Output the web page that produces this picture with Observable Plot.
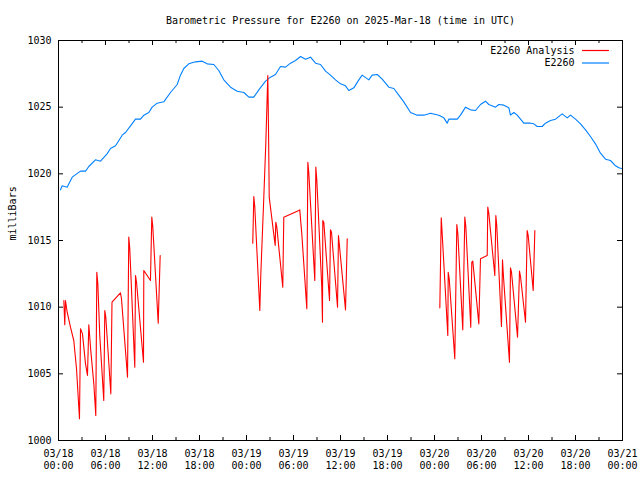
<!DOCTYPE html>
<html>
<head>
<meta charset="utf-8">
<script src="https://cdn.jsdelivr.net/npm/d3@7"></script>
<script src="https://cdn.jsdelivr.net/npm/@observablehq/plot@0.6"></script>
<style>
  html, body { margin: 0; padding: 0; background: #fff; }
</style>
</head>
<body>
<div id="chart"></div>
<script>
// ---- Data (hours since 2025-03-18 00:00 UTC, pressure in milliBars) ----
const titleText = "Barometric Pressure for E2260 on 2025-Mar-18 (time in UTC)";
const yLabel = "milliBars";
const seriesNames = ["E2260 Analysis", "E2260"];
const seriesColors = ["rgb(255,0,0)", "rgb(0,128,255)"];

const stationHours = [0.26,0.47,1.1,1.75,2.8,3.45,3.87,4.72,5.36,6.2,6.64,7.28,8.13,8.55,9.19,9.83,10.47,10.9,11.53,11.96,12.6,13.44,14.3,15.15,15.57,16.0,16.63,17.49,18.34,18.98,19.83,20.46,21.1,21.96,22.81,23.66,24.3,24.93,25.57,26.43,27.06,27.7,28.34,28.98,29.62,30.26,30.9,31.53,32.17,32.81,33.45,34.09,34.72,35.36,36.0,36.64,37.06,37.7,38.34,38.77,39.61,40.04,40.69,41.32,42.17,42.81,43.44,44.08,44.94,45.79,46.64,47.49,48.55,49.19,49.62,49.83,50.9,51.32,51.96,52.6,53.23,53.87,54.51,54.93,55.79,56.21,56.85,57.49,57.7,58.13,58.56,58.98,59.4,60.26,60.68,61.11,61.75,62.17,62.81,63.45,64.3,64.94,65.36,66.0,66.64,67.28,67.91,68.55,69.19,69.83,70.47,71.11,71.53,71.9];
const stationP = [1018.8,1019.1,1019.0,1019.75,1020.2,1020.2,1020.55,1021.05,1020.95,1021.5,1021.9,1022.1,1022.9,1023.1,1023.6,1024.1,1024.1,1024.4,1024.6,1025.0,1025.3,1025.4,1026.1,1026.7,1027.4,1027.9,1028.25,1028.4,1028.45,1028.25,1028.2,1027.75,1027.05,1026.5,1026.2,1026.1,1025.75,1025.75,1026.3,1026.95,1027.25,1027.45,1028.05,1028.0,1028.3,1028.5,1028.8,1028.6,1028.75,1028.3,1028.2,1027.7,1027.4,1027.05,1026.75,1026.6,1026.25,1026.45,1027.05,1027.4,1027.05,1027.4,1027.45,1027.1,1026.5,1026.4,1025.9,1025.4,1024.6,1024.4,1024.4,1024.55,1024.4,1024.2,1023.8,1024.1,1024.1,1024.4,1025.0,1024.8,1024.75,1025.2,1025.45,1025.2,1025.0,1025.2,1025.15,1024.95,1024.4,1024.6,1024.4,1024.1,1023.8,1023.8,1023.75,1023.55,1023.55,1023.8,1024.0,1024.1,1024.5,1024.2,1024.4,1024.1,1023.75,1023.3,1022.8,1022.25,1021.55,1021.1,1021.0,1020.6,1020.45,1020.4];

// null entries mark gaps between analysis segments
const analysisHours = [0.68,0.8,0.89,1.11,1.53,1.95,2.3,2.68,2.81,3.06,3.45,3.7,3.87,4.12,4.51,4.76,4.89,5.02,5.27,5.78,5.91,6.04,6.68,6.83,7.91,8.04,8.81,8.97,9.1,9.74,9.83,9.96,10.85,10.89,11.74,11.91,12.04,12.73,12.98,
  null,
  24.8,24.93,25.06,25.7,25.83,26.21,26.47,26.72,26.81,26.9,27.66,27.74,27.87,28.63,28.76,30.68,30.8,31.06,31.7,31.83,31.95,32.72,32.85,32.98,33.61,33.7,33.74,33.87,34.6,34.72,34.85,35.62,35.74,36.64,36.86,
  null,
  48.68,48.86,48.93,49.7,49.75,49.88,50.59,50.85,50.98,51.61,51.87,52.0,52.63,52.76,52.89,53.66,53.87,54.73,54.8,54.93,55.7,55.83,55.95,56.55,56.68,56.81,57.57,57.7,57.83,58.6,58.85,58.98,59.62,59.83,59.96,60.6,60.81];
const analysisP = [1010.5,1008.68,1010.5,1009.62,1008.5,1007.5,1005.38,1001.63,1008.38,1008.0,1005.75,1004.88,1008.68,1006.75,1004.25,1001.88,1012.62,1011.75,1007.88,1003.0,1009.75,1009.25,1003.5,1010.37,1011.08,1010.63,1004.75,1015.25,1014.38,1005.5,1012.38,1011.87,1005.87,1012.75,1012.0,1016.75,1016.0,1008.8,1013.87,
  null,
  1014.8,1018.3,1017.5,1009.75,1012.5,1018.25,1022.37,1027.38,1023.38,1018.25,1014.63,1016.37,1016.0,1011.5,1016.75,1017.25,1017.3,1015.5,1009.88,1020.87,1020.12,1012.0,1020.5,1019.5,1011.5,1008.87,1016.5,1016.37,1010.5,1015.8,1015.62,1010.0,1015.38,1009.8,1015.13,
  null,
  1009.95,1016.7,1016.05,1007.88,1012.62,1012.13,1006.13,1016.2,1015.5,1008.3,1016.75,1016.05,1008.5,1013.37,1013.45,1008.75,1013.63,1013.87,1017.5,1017.05,1012.38,1016.88,1016.13,1008.55,1013.55,1012.25,1005.87,1012.95,1012.62,1007.75,1012.7,1012.3,1008.87,1015.75,1015.38,1011.25,1015.75];

const yTicks = [1000, 1005, 1010, 1015, 1020, 1025, 1030];
const xTickHours = [0, 6, 12, 18, 24, 30, 36, 42, 48, 54, 60, 66, 72];
const xMinorHours = [3, 9, 15, 21, 27, 33, 39, 45, 51, 57, 63, 69];

// ---- Build tables ----
const t0 = Date.UTC(2025, 2, 18, 0, 0);
const toDate = h => h == null ? null : new Date(t0 + h * 3600e3);
const station = stationHours.map((h, i) => ({t: toDate(h), p: stationP[i]}));
const analysis = analysisHours.map((h, i) => ({t: toDate(h), p: analysisP[i]}));
const xTicks = xTickHours.map(toDate);
const xMinor = xMinorHours.map(toDate);
const fmtDate = d3.utcFormat("%m/%d");
const fmtTime = d3.utcFormat("%H:%M");
const legend = seriesNames.map((name, i) => ({name, color: seriesColors[i], row: i}));

const W = 640, H = 480, mL = 58, mR = 18, mT = 40, mB = 40;
const innerH = H - mT - mB, innerW = W - mL - mR;
const font = "'DejaVu Sans Mono', 'Liberation Mono', monospace";

// legend swatch geometry (pixels from the frame's right edge / top)
const swatchRight = 13, swatchLen = 27, rowStep = 12.5, firstRow = 10;

const chart = Plot.plot({
  width: W,
  height: H,
  marginLeft: mL,
  marginRight: mR,
  marginTop: mT,
  marginBottom: mB,
  style: {fontFamily: font, fontSize: "10px", background: "#fff", color: "#000"},
  x: {type: "utc", domain: [toDate(0), toDate(72)], axis: null},
  y: {domain: [1000, 1030], axis: null},
  marks: [
    // major ticks bottom/top (inward)
    Plot.ruleX(xTicks, {x: d => d, insetTop: innerH - 5, stroke: "black"}),
    Plot.ruleX(xTicks, {x: d => d, insetBottom: innerH - 5, stroke: "black"}),
    // minor ticks
    Plot.ruleX(xMinor, {x: d => d, insetTop: innerH - 3, stroke: "black"}),
    Plot.ruleX(xMinor, {x: d => d, insetBottom: innerH - 3, stroke: "black"}),
    // y ticks left/right
    Plot.ruleY(yTicks, {y: d => d, insetRight: innerW - 5, stroke: "black"}),
    Plot.ruleY(yTicks, {y: d => d, insetLeft: innerW - 5, stroke: "black"}),
    // series
    Plot.line(station, {x: "t", y: "p", stroke: seriesColors[1], strokeWidth: 1.1}),
    Plot.line(analysis, {x: "t", y: "p", stroke: seriesColors[0], strokeWidth: 1.1}),
    Plot.frame({stroke: "black", strokeWidth: 1}),
    // tick labels
    Plot.text(xTicks, {x: d => d, frameAnchor: "bottom", lineAnchor: "middle", dy: 13, text: d => fmtDate(d), fill: "black"}),
    Plot.text(xTicks, {x: d => d, frameAnchor: "bottom", lineAnchor: "middle", dy: 25, text: d => fmtTime(d), fill: "black"}),
    Plot.text(yTicks, {y: d => d, frameAnchor: "left", lineAnchor: "middle", dx: -7, textAnchor: "end", text: d => String(d), fill: "black"}),
    // title and axis label
    Plot.text([titleText], {frameAnchor: "top", lineAnchor: "middle", dy: -20, text: d => d, fill: "black"}),
    Plot.text([yLabel], {frameAnchor: "left", lineAnchor: "middle", dx: -46, rotate: -90, text: d => d, fill: "black"}),
    // legend
    ...legend.map(d => Plot.text([d], {frameAnchor: "top-right", lineAnchor: "middle", dx: -48, dy: firstRow + d.row * rowStep, textAnchor: "end", text: "name", fill: "black"})),
    ...legend.map(d => Plot.ruleY([d], {y: () => 1030, dy: firstRow + d.row * rowStep, insetLeft: innerW - swatchRight - swatchLen, insetRight: swatchRight, stroke: d.color, strokeWidth: 1.2}))
  ]
});
document.getElementById("chart").appendChild(chart);
</script>
</body>
</html>
